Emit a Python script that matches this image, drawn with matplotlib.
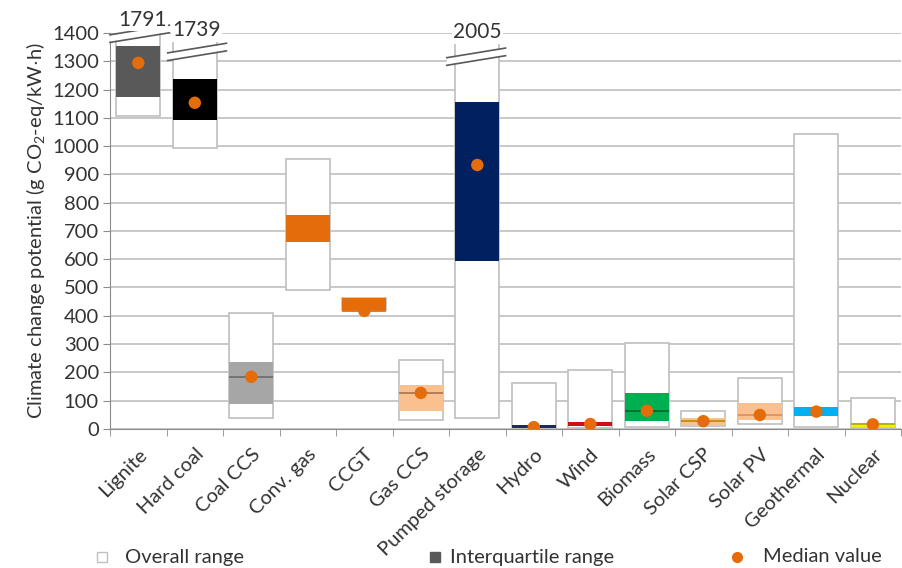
import numpy as np
import matplotlib.pyplot as plt
from matplotlib.lines import Line2D

plt.rcParams['font.family'] = ['Lato', 'DejaVu Sans']
plt.rcParams['mathtext.fontset'] = 'custom'
plt.rcParams['mathtext.rm'] = 'Lato'
plt.rcParams['mathtext.it'] = 'Lato:italic'

# data (g CO2-eq/kWh)
technologies = ['Lignite', 'Hard coal', 'Coal CCS', 'Conv. gas', 'CCGT', 'Gas CCS',
                'Pumped storage', 'Hydro', 'Wind', 'Biomass', 'Solar CSP', 'Solar PV',
                'Geothermal', 'Nuclear']
range_min = [1106, 993, 39, 490, 421, 32, 39, 2, 3, 5, 9, 16, 5, 4]
range_max = [1791, 1739, 410, 955, 463, 244, 2005, 163, 209, 304, 62, 181, 1043, 110]
q1 = [1173, 1092, 88, 662, 421, 64, 594, 4, 9, 29, 15, 32, 46, 8]
q3 = [1355, 1237, 237, 755, 463, 156, 1156, 13, 24, 127, 38, 92, 78, 22]
median = [1294, 1153, 184, 710, 417, 127, 933, 6, 17, 64, 27, 49, 61, 16]

iqr_colors = ['#595959', '#000000', '#a6a6a6', '#e46c0a', '#e46c0a', '#fac090',
              '#002060', '#1f2a5c', '#d01010', '#00b050', '#fac090', '#fac090',
              '#00b0f0', '#f0f000']
med_line_colors = ['#595959', '#000000', '#6f6f6f', '#e46c0a', '#e46c0a', '#b07850',
                   '#002060', '#1f2a5c', '#d01010', '#006a30', '#c09000', '#e09060',
                   '#00b0f0', '#b0b000']

grey = '#bfbfbf'
dot_color = '#e46c0a'
fs = 14.5

fig = plt.figure(figsize=(9.02, 5.68), dpi=100)
ax = fig.add_axes([0.122, 0.245, 0.877, 0.697])

x = np.arange(len(technologies))
w = 0.78
lo = np.array(range_min)
hi = np.array(range_max)
ax.bar(x, hi - lo, bottom=lo, width=w, color='white', edgecolor=grey, lw=1.2, zorder=2)
ax.bar(x, np.array(q3) - np.array(q1), bottom=q1, width=w, color=iqr_colors,
       edgecolor='none', zorder=3)
ax.hlines(median, x - w / 2, x + w / 2, colors=med_line_colors, lw=1.3, zorder=4)
ax.scatter(x, median, s=80, color=dot_color, zorder=5, edgecolors='none')

ax.set_xlim(-0.5, len(technologies) - 0.5)
ax.set_ylim(0, 1400)
ax.set_yticks(np.arange(0, 1401, 100))
ax.yaxis.grid(True, color=grey, lw=1.2, zorder=0)
ax.set_axisbelow(True)
for s in ['top', 'right']:
    ax.spines[s].set_visible(False)
for s in ['left', 'bottom']:
    ax.spines[s].set_color('#8c8c8c')
ax.tick_params(axis='y', colors='#8c8c8c', labelcolor='#333333', labelsize=fs, length=5,
               pad=3)
ax.set_xticks(x)
ax.set_xticklabels(technologies, rotation=45, ha='right', rotation_mode='anchor',
                   fontsize=fs, color='#333333')
ax.set_xticks(np.arange(-0.5, len(technologies), 1), minor=True)
ax.tick_params(axis='x', which='major', length=0, pad=12)
ax.tick_params(axis='x', which='minor', length=5, color='#8c8c8c')
ax.set_ylabel(r'Climate change potential (g CO$_2$-eq/kW$\cdot$h)', fontsize=fs,
              color='#333333', labelpad=4)


# axis breaks for the values above 1400
def draw_break(i, yc, x0=-0.5, x1=0.55):
    rise = 34
    gap = 27
    for off in (gap / 2, -gap / 2):
        ax.plot([i + x0, i + x1], [yc + off - rise / 2, yc + off + rise / 2],
                color='#595959', lw=1.2, clip_on=False, zorder=7)
    ax.fill([i + x0, i + x1, i + x1, i + x0],
            [yc - gap / 2 - rise / 2 + 3, yc - gap / 2 + rise / 2 + 3,
             yc + gap / 2 + rise / 2 - 3, yc + gap / 2 - rise / 2 - 3],
            color='white', clip_on=False, zorder=6, lw=0)


draw_break(0, 1397)
draw_break(1, 1333, -0.48, 0.56)
draw_break(6, 1316, -0.54, 0.5)

for i, yv, dx in [(0, 1446, 0.07), (1, 1410, 0.03), (6, 1403, 0.0)]:
    ax.text(i + dx, yv, str(range_max[i]), ha='center', va='center', fontsize=15,
            color='#333333', zorder=8, clip_on=False,
            bbox=dict(facecolor='white', edgecolor='none', pad=1))

# legend along the bottom
ly = 1 - 557 / 568
items = [(102 / 902, 's', 'white', grey, 125 / 902, 'Overall range'),
         (435 / 902, 's', '#595959', '#595959', 450 / 902, 'Interquartile range'),
         (737 / 902, 'o', dot_color, dot_color, 763 / 902, 'Median value')]
for mx, mk, fc, ec, tx, label in items:
    fig.add_artist(Line2D([mx], [ly], marker=mk, markersize=7, markerfacecolor=fc,
                          markeredgecolor=ec, linestyle='none', transform=fig.transFigure))
    fig.text(tx, ly, label, ha='left', va='center', fontsize=fs, color='#333333')

fig.savefig('out.png', dpi=100)
